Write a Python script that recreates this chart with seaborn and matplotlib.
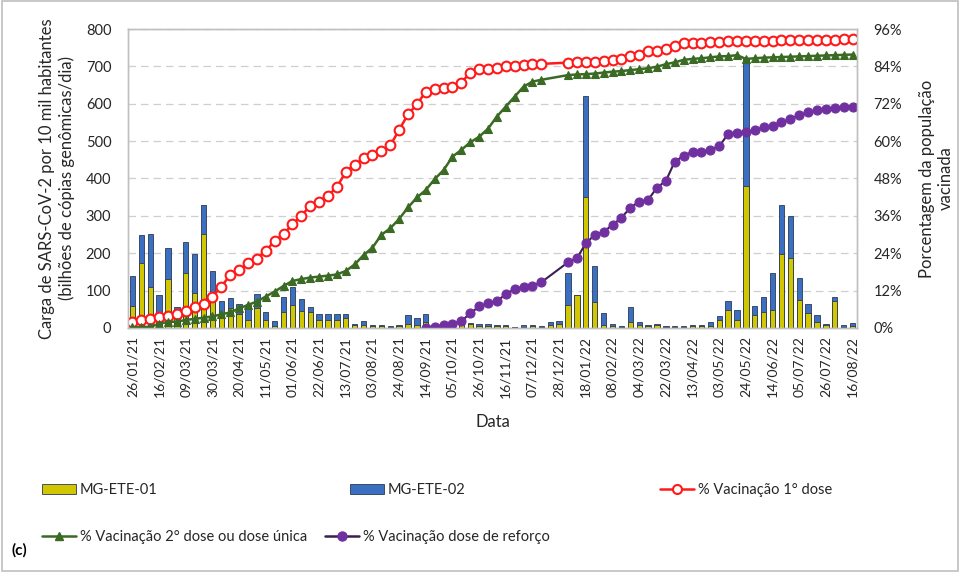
"""
Carga de SARS-CoV-2 (MG-ETE-01 / MG-ETE-02) e cobertura vacinal, 2021-2022.
"""

import numpy as np
import pandas as pd
import matplotlib.pyplot as plt
import seaborn as sns
from matplotlib.lines import Line2D
from matplotlib.patches import Patch, Rectangle
from matplotlib.ticker import FuncFormatter, MultipleLocator

# rotulos exibidos (um a cada 3 amostras)
TICK_LABELS = [
    "26/01/21", "16/02/21", "09/03/21", "30/03/21", "20/04/21", "11/05/21",
    "01/06/21", "22/06/21", "13/07/21", "03/08/21", "24/08/21", "14/09/21",
    "05/10/21", "26/10/21", "16/11/21", "07/12/21", "28/12/21", "18/01/22",
    "08/02/22", "04/03/22", "22/03/22", "13/04/22", "03/05/22", "24/05/22",
    "14/06/22", "05/07/22", "26/07/22", "16/08/22",
]

# carga (bilhoes de copias genomicas/dia por 10 mil hab.)
ETE_01 = [
    60, 173, 109, 39, 131, 35, 146, 93, 252, 97, 35, 53, 38, 21,
    53, 21, 5, 42, 62, 45, 42, 21, 21, 21, 26, 8, 8,
    5, 5, 3, 5, 10, 8, 17, 3, 3, 3, 8, 10, 6, 5,
    6, 5, 2, 3, 5, 3, 8, 10, 62, 88, 350, 69, 8,
    5, 2, 17, 8, 4, 8, 3, 3, 3, 4, 4, 4, 21,
    48, 21, 380, 35, 44, 48, 197, 186, 75, 41, 17, 8, 73, 3, 5,
]
ETE_02 = [
    80, 76, 143, 49, 84, 22, 83, 105, 77, 56, 37, 28, 25, 41,
    37, 21, 14, 40, 49, 33, 15, 16, 16, 16, 11, 4, 11,
    3, 3, 2, 3, 25, 18, 20, 2, 2, 2, 10, 4, 6, 5,
    2, 3, 0, 5, 3, 1, 9, 10, 84, 0, 272, 98, 31,
    5, 2, 40, 9, 4, 3, 3, 3, 3, 4, 4, 11, 12,
    25, 27, 340, 25, 40, 98, 131, 113, 60, 23, 18, 3, 11, 5, 9,
]

# cobertura vacinal (%)
nan = np.nan
DOSE_1 = [
    1.8, 2.5, 2.9, 3.5, 4.0, 4.4, 5.6, 6.6, 7.8, 10.1, 13.3, 17.0, 18.6, 20.8,
    22.2, 24.8, 27.9, 30.1, 33.3, 36.0, 39.3, 40.6, 42.5, 45.2, 50.2, 52.4, 54.5,
    55.6, 56.8, 58.6, 63.6, 68.6, 71.8, 75.9, 76.6, 77.2, 77.3, 78.8, 82.0, 83.1, 83.3,
    83.6, 84.0, 84.2, 84.3, 84.7, 84.8, nan, nan, 85.2, 85.3, 85.5, 85.5, 85.6,
    86.1, 86.3, 87.2, 87.5, 89.0, 89.0, 89.5, 90.7, 91.4, 91.4, 91.4, 91.7, 91.7,
    92.0, 92.1, 92.2, 92.2, 92.3, 92.3, 92.4, 92.4, 92.5, 92.5, 92.5, 92.6, 92.6, 92.7, 92.7,
]
DOSE_2 = [
    0.2, 0.3, 0.4, 1.3, 2.0, 2.0, 2.6, 2.9, 3.3, 3.7, 4.4, 5.0, 6.3, 7.4,
    8.5, 10.1, 11.7, 13.5, 15.1, 15.7, 16.2, 16.5, 16.8, 17.2, 18.3, 20.4, 23.4,
    25.8, 29.9, 32.0, 35.0, 38.7, 41.9, 44.3, 47.8, 50.7, 55.0, 57.2, 59.6, 61.4, 64.0,
    67.9, 71.1, 74.3, 77.5, 79.1, 79.7, nan, nan, 81.2, 81.4, 81.5, 81.7, 82.0,
    82.3, 82.5, 82.8, 83.1, 83.4, 83.9, 84.7, 85.3, 86.1, 86.4, 86.6, 86.9, 87.2,
    87.3, 87.6, 86.4, 86.6, 86.8, 86.9, 87.0, 87.1, 87.2, 87.3, 87.4, 87.5, 87.6, 87.7, 87.8,
]
REFORCO = [nan] * 33 + [
    0.1, 0.4, 1.0, 1.3, 2.2, 4.7, 6.9, 7.9,
    8.7, 10.8, 12.5, 13.3, 13.6, 14.7, nan, nan, 21.1, 22.4, 27.2, 29.9, 30.9,
    33.1, 35.4, 38.6, 40.6, 41.1, 45.1, 47.2, 53.4, 55.3, 56.6, 56.6, 57.2, 58.3,
    62.3, 62.6, 62.8, 63.5, 64.5, 65.0, 66.0, 67.0, 68.4, 69.2, 69.9, 70.4, 70.6, 70.8, 71.1,
]

YELLOW = "#D2C600"
BLUE = "#3B6FC1"
BAR_EDGE = "#2B3A55"
RED = "#FF1A1A"
GREEN = "#3A6A24"
PURPLE = "#7030A0"
PURPLE_LINE = "#3A1F50"
GRAY = "#BFBFBF"
TEXT = "#262626"


def plot_lines(ax, idx, values, **kws):
    df = pd.DataFrame({"amostra": idx, "pct": values}).dropna()
    sns.lineplot(data=df, x="amostra", y="pct", ax=ax, **kws)


def main():
    sns.set_theme(style="white")
    plt.rcParams["font.family"] = ["Lato", "DejaVu Sans"]

    n = len(ETE_01)
    idx = list(range(n))
    df = pd.DataFrame({"amostra": idx, "ete01": ETE_01, "ete02": ETE_02})
    df["total"] = df["ete01"] + df["ete02"]

    fig = plt.figure(figsize=(9.6, 5.72), dpi=100)
    ax = fig.add_axes([0.1333, 0.4266, 0.7594, 0.5227])

    bar_kws = dict(x="amostra", ax=ax, width=0.6, errorbar=None, saturation=1,
                   edgecolor=BAR_EDGE, linewidth=0.6)
    sns.barplot(data=df, y="total", color=BLUE, **bar_kws)
    sns.barplot(data=df, y="ete01", color=YELLOW, **bar_kws)

    ax.set_ylim(0, 800)
    ax.yaxis.set_major_locator(MultipleLocator(100))
    ax.yaxis.grid(True, linestyle=(0, (6, 4)), color="#CFCFCF", linewidth=0.9)
    ax.set_axisbelow(True)

    ax2 = ax.twinx()
    plot_lines(ax2, idx, DOSE_1, color=RED, linewidth=1.8, marker="o",
               markersize=7, markerfacecolor="white", markeredgecolor=RED,
               markeredgewidth=1.5)
    plot_lines(ax2, idx, DOSE_2, color=GREEN, linewidth=1.8, marker="^",
               markersize=6, markerfacecolor=GREEN, markeredgecolor=GREEN,
               markeredgewidth=0.8)
    plot_lines(ax2, idx, REFORCO, color=PURPLE_LINE, linewidth=1.5, marker="o",
               markersize=6.5, markerfacecolor=PURPLE, markeredgecolor=PURPLE,
               markeredgewidth=0.8)

    ax2.set_ylim(0, 96)
    ax2.yaxis.set_major_locator(MultipleLocator(12))
    ax2.yaxis.set_major_formatter(FuncFormatter(lambda v, _: f"{v:.0f}%"))
    ax.set_xlim(-0.5, n - 0.5)

    ax.set_xticks(range(0, n, 3))
    ax.set_xticklabels(TICK_LABELS, rotation=90, fontsize=10, color=TEXT)
    ax.tick_params(axis="y", labelsize=10.5, labelcolor=TEXT, length=0, pad=12)
    ax2.tick_params(axis="y", labelsize=10.5, labelcolor=TEXT, length=0, pad=12)
    ax.tick_params(axis="x", length=0, pad=6)

    for a in (ax, ax2):
        for spine in a.spines.values():
            spine.set_color(GRAY)
            spine.set_linewidth(1.0)

    ax.set_xlabel("Data", fontsize=12, color=TEXT, labelpad=12)
    ax.set_ylabel("Carga de SARS-CoV-2 por 10 mil habitantes\n"
                  "(bilhões de cópias genômicas/dia)",
                  fontsize=12, color=TEXT, labelpad=8)
    ax2.set_ylabel("Porcentagem da população\nvacinada",
                   fontsize=12, color=TEXT, labelpad=12)

    entries = [
        (Patch(facecolor=YELLOW, edgecolor=BAR_EDGE, linewidth=0.6),
         "MG-ETE-01", 42, 490),
        (Patch(facecolor=BLUE, edgecolor=BAR_EDGE, linewidth=0.6),
         "MG-ETE-02", 350, 490),
        (Line2D([], [], color=RED, linewidth=1.8, marker="o", markersize=6.5,
                markerfacecolor="white", markeredgecolor=RED, markeredgewidth=1.5),
         "% Vacinação 1° dose", 660, 490),
        (Line2D([], [], color=GREEN, linewidth=1.8, marker="^", markersize=6,
                markerfacecolor=GREEN, markeredgecolor=GREEN),
         "% Vacinação 2° dose ou dose única", 42, 537),
        (Line2D([], [], color=PURPLE_LINE, linewidth=1.8, marker="o", markersize=6.5,
                markerfacecolor=PURPLE, markeredgecolor=PURPLE),
         "% Vacinação dose de reforço", 325, 537),
    ]
    for handle, label, px, py in entries:
        fig.legend(handles=[handle], labels=[label], loc="center left",
                   bbox_to_anchor=(px / 960, 1 - py / 572), frameon=False,
                   borderpad=0, borderaxespad=0, handlelength=2.3,
                   handletextpad=0.3, fontsize=10.5, labelcolor=TEXT)

    fig.text(12 / 960, 1 - 550 / 572, "(c)", fontsize=11, fontweight="bold",
             color="black", va="center")
    fig.patches.append(Rectangle((0.002, 0.002), 0.996, 0.996, transform=fig.transFigure,
                                 fill=False, edgecolor=GRAY, linewidth=1.2))

    fig.savefig("out.png", dpi=100)
    plt.close(fig)


if __name__ == "__main__":
    main()
